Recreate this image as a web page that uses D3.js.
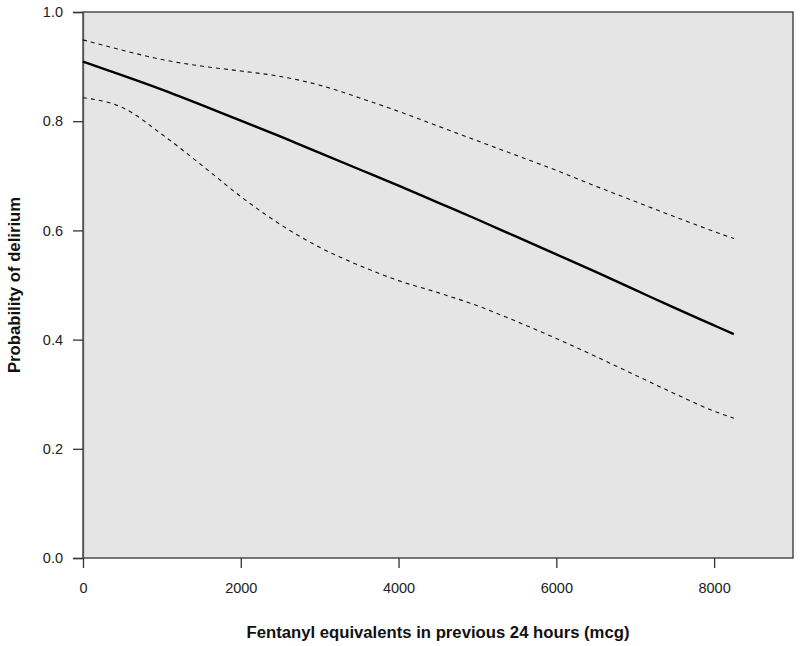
<!DOCTYPE html>
<html>
<head>
<meta charset="utf-8">
<script src="https://cdn.jsdelivr.net/npm/d3@7"></script>
<style>
  body { margin: 0; background: #fff; }
  svg { display: block; font-family: "Liberation Sans", Arial, sans-serif; }
</style>
</head>
<body>
<svg id="chart" width="800" height="646"></svg>
<script>
const doses = [0, 500, 1000, 1500, 2000, 2500, 3000, 3500, 4000, 4500, 5000, 5500, 6000, 6500, 7000, 7500, 8000, 8250];
const estimate = [0.909, 0.884, 0.858, 0.830, 0.801, 0.772, 0.742, 0.712, 0.682, 0.651, 0.620, 0.588, 0.556, 0.524, 0.491, 0.458, 0.426, 0.410];
const upperCI = [0.949, 0.930, 0.913, 0.901, 0.892, 0.882, 0.866, 0.843, 0.818, 0.791, 0.764, 0.737, 0.710, 0.681, 0.653, 0.625, 0.598, 0.585];
const lowerCI = [0.843, 0.825, 0.776, 0.720, 0.662, 0.611, 0.569, 0.536, 0.508, 0.486, 0.462, 0.433, 0.402, 0.369, 0.335, 0.301, 0.269, 0.256];
const xTicks = [0, 2000, 4000, 6000, 8000];
const yTicks = [0.0, 0.2, 0.4, 0.6, 0.8, 1.0];
const xTitle = "Fentanyl equivalents in previous 24 hours (mcg)";
const yTitle = "Probability of delirium";

const svg = d3.select("#chart");
const mLeft = 83, mRight = 793, mTop = 12, mBottom = 558;

const x = d3.scaleLinear().domain([0, 9000]).range([mLeft, mRight]);
const y = d3.scaleLinear().domain([0, 1]).range([mBottom, mTop]);

svg.append("rect")
  .attr("x", mLeft).attr("y", mTop)
  .attr("width", mRight - mLeft).attr("height", mBottom - mTop)
  .attr("fill", "#e5e5e5")
  .attr("stroke", "#333").attr("stroke-width", 1.3);

const yAxis = svg.append("g")
  .attr("transform", `translate(${mLeft},0)`)
  .call(d3.axisLeft(y).tickValues(yTicks).tickFormat(d3.format(".1f")).tickSize(10).tickPadding(10));
yAxis.select(".domain").attr("stroke", "#555").attr("stroke-width", 1.3);
yAxis.selectAll(".tick line").attr("stroke", "#333").attr("stroke-width", 1.3);
yAxis.selectAll("text").attr("font-size", 14.5).attr("fill", "#222").attr("font-family", "Liberation Sans, Arial, sans-serif");

const xAxis = svg.append("g")
  .attr("transform", `translate(0,${mBottom})`)
  .call(d3.axisBottom(x).tickValues(xTicks).tickFormat(d3.format("d")).tickSize(10).tickPadding(15));
xAxis.select(".domain").remove();
xAxis.selectAll(".tick line").attr("stroke", "#333").attr("stroke-width", 1.3);
xAxis.selectAll("text").attr("font-size", 14.5).attr("fill", "#222").attr("font-family", "Liberation Sans, Arial, sans-serif");

const line = d3.line().x((d, i) => x(doses[i])).y(d => y(d)).curve(d3.curveMonotoneX);

svg.append("path").datum(upperCI).attr("d", line)
  .attr("fill", "none").attr("stroke", "#111").attr("stroke-width", 1.1).attr("stroke-dasharray", "4,4");
svg.append("path").datum(lowerCI).attr("d", line)
  .attr("fill", "none").attr("stroke", "#111").attr("stroke-width", 1.1).attr("stroke-dasharray", "4,4");
svg.append("path").datum(estimate).attr("d", line)
  .attr("fill", "none").attr("stroke", "#000").attr("stroke-width", 2.4);

svg.append("text")
  .attr("x", (mLeft + mRight) / 2).attr("y", 638)
  .attr("text-anchor", "middle").attr("font-size", 16.7).attr("font-weight", "bold").attr("fill", "#111")
  .text(xTitle);

svg.append("text")
  .attr("transform", `translate(20,${(mTop + mBottom) / 2}) rotate(-90)`)
  .attr("text-anchor", "middle").attr("font-size", 16.7).attr("font-weight", "bold").attr("fill", "#111")
  .text(yTitle);
</script>
</body>
</html>
